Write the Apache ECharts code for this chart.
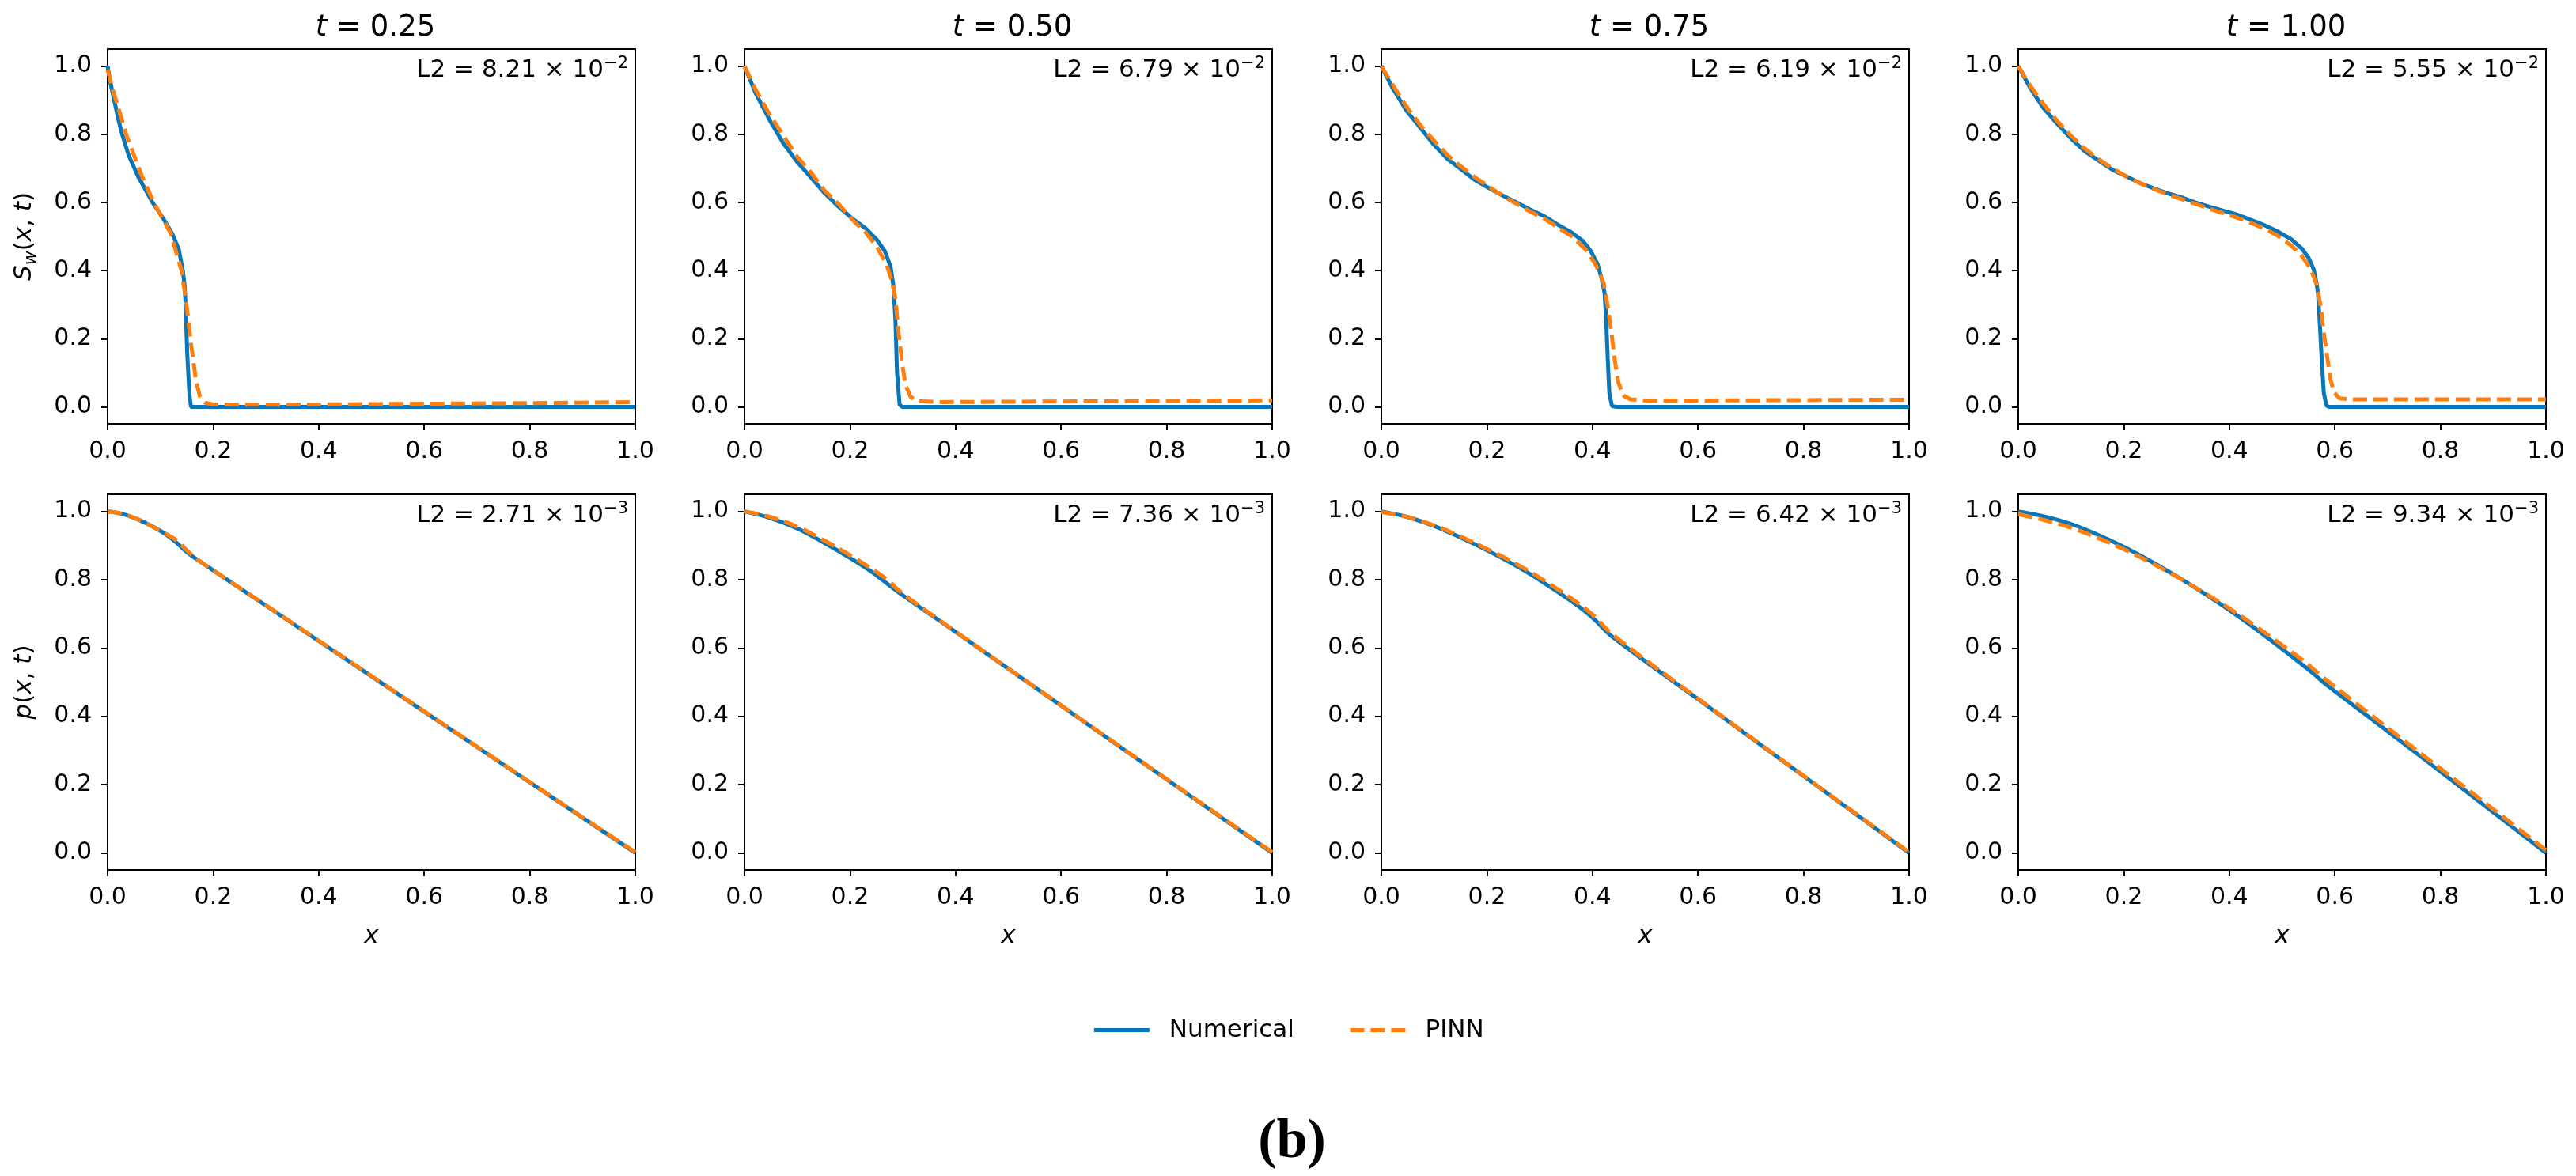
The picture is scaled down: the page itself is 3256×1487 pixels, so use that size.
<!DOCTYPE html>
<html><head><meta charset="utf-8">
<script src="https://cdn.jsdelivr.net/npm/echarts@6/dist/echarts.min.js"></script>
<style>html,body{margin:0;padding:0;background:#fff}#c{width:3256px;height:1487px}</style>
</head><body><div id="c"></div>
<script>
// ---------- tick / label data ----------
const timeLabels = ['0.25', '0.50', '0.75', '1.00'];
const xTicks = [0, 0.2, 0.4, 0.6, 0.8, 1.0];
const yTicks = [0, 0.2, 0.4, 0.6, 0.8, 1.0];
const l2Sw = ['8.21', '6.79', '6.19', '5.55'];
const l2P = ['2.71', '7.36', '6.42', '9.34'];

// ---------- Sw(x,t): numerical ----------
const swNumX025 = [0, 0.005, 0.02, 0.0275, 0.04, 0.0575, 0.085, 0.105, 0.1225, 0.135, 0.1425, 0.146, 0.1475, 0.151, 0.155, 0.158, 0.2, 0.4, 0.6, 0.8, 1.0];
const swNumY025 = [1.0, 0.954, 0.846, 0.8, 0.738, 0.677, 0.6, 0.554, 0.508, 0.462, 0.4, 0.354, 0.308, 0.154, 0.038, 0.0, 0, 0, 0, 0, 0];
const swNumX050 = [0, 0.0215, 0.0476, 0.0737, 0.0998, 0.1259, 0.152, 0.178, 0.204, 0.230, 0.250, 0.266, 0.277, 0.282, 0.286, 0.289, 0.294, 0.299, 0.4, 0.6, 0.8, 1.0];
const swNumY050 = [1.0, 0.919, 0.842, 0.773, 0.719, 0.673, 0.627, 0.588, 0.553, 0.523, 0.492, 0.457, 0.411, 0.357, 0.257, 0.103, 0.006, 0, 0, 0, 0, 0];
const swNumX075 = [0, 0.0215, 0.0476, 0.0737, 0.0998, 0.1259, 0.152, 0.178, 0.204, 0.230, 0.256, 0.282, 0.309, 0.335, 0.361, 0.381, 0.397, 0.410, 0.418, 0.423, 0.426, 0.429, 0.432, 0.437, 0.446, 0.6, 0.8, 1.0];
const swNumY075 = [1.0, 0.935, 0.869, 0.819, 0.769, 0.727, 0.696, 0.665, 0.642, 0.62, 0.6, 0.579, 0.559, 0.534, 0.511, 0.488, 0.457, 0.418, 0.372, 0.334, 0.257, 0.141, 0.041, 0.002, 0, 0, 0, 0];
const swNumX100 = [0, 0.0215, 0.0476, 0.0737, 0.0998, 0.1259, 0.152, 0.178, 0.204, 0.230, 0.256, 0.282, 0.309, 0.335, 0.361, 0.387, 0.413, 0.439, 0.465, 0.491, 0.517, 0.537, 0.550, 0.560, 0.565, 0.568, 0.571, 0.575, 0.579, 0.584, 0.589, 0.8, 1.0];
const swNumY100 = [1.0, 0.939, 0.877, 0.831, 0.788, 0.75, 0.723, 0.696, 0.677, 0.657, 0.642, 0.627, 0.615, 0.6, 0.588, 0.576, 0.565, 0.55, 0.534, 0.515, 0.492, 0.465, 0.438, 0.403, 0.364, 0.334, 0.257, 0.141, 0.041, 0.004, 0, 0, 0];

// ---------- Sw(x,t): PINN ----------
const swPinnX025 = [0, 0.01, 0.0265, 0.035, 0.05, 0.065, 0.0875, 0.12, 0.14, 0.149, 0.1575, 0.1675, 0.175, 0.185, 0.2, 0.25, 0.4, 0.6, 0.8, 1.0];
const swPinnY025 = [0.99, 0.93, 0.846, 0.8, 0.738, 0.677, 0.6, 0.508, 0.4, 0.308, 0.192, 0.077, 0.03, 0.012, 0.007, 0.006, 0.007, 0.009, 0.011, 0.014];
const swPinnX050 = [0, 0.0215, 0.0476, 0.0737, 0.0998, 0.1259, 0.152, 0.178, 0.204, 0.230, 0.250, 0.269, 0.279, 0.286, 0.292, 0.299, 0.305, 0.315, 0.328, 0.374, 0.635, 1.0];
const swPinnY050 = [1.0, 0.93, 0.858, 0.796, 0.734, 0.688, 0.634, 0.596, 0.55, 0.511, 0.472, 0.418, 0.372, 0.318, 0.218, 0.126, 0.064, 0.029, 0.016, 0.014, 0.016, 0.019];
const swPinnX075 = [0, 0.0215, 0.0476, 0.0737, 0.0998, 0.1259, 0.152, 0.178, 0.204, 0.230, 0.256, 0.282, 0.309, 0.335, 0.361, 0.387, 0.406, 0.421, 0.429, 0.436, 0.442, 0.449, 0.459, 0.472, 0.504, 1.0];
const swPinnY075 = [1.0, 0.945, 0.881, 0.827, 0.781, 0.738, 0.704, 0.673, 0.646, 0.619, 0.596, 0.573, 0.552, 0.526, 0.500, 0.462, 0.418, 0.365, 0.295, 0.218, 0.141, 0.072, 0.033, 0.022, 0.018, 0.021];
const swPinnX100 = [0, 0.0215, 0.0476, 0.0737, 0.0998, 0.1259, 0.152, 0.178, 0.204, 0.230, 0.256, 0.282, 0.309, 0.335, 0.361, 0.387, 0.413, 0.439, 0.465, 0.491, 0.517, 0.537, 0.553, 0.566, 0.573, 0.579, 0.586, 0.592, 0.599, 0.609, 0.628, 1.0];
const swPinnY100 = [1.0, 0.945, 0.889, 0.839, 0.796, 0.758, 0.727, 0.70, 0.677, 0.657, 0.640, 0.624, 0.610, 0.596, 0.582, 0.569, 0.556, 0.541, 0.524, 0.503, 0.474, 0.443, 0.408, 0.357, 0.295, 0.218, 0.141, 0.079, 0.041, 0.025, 0.022, 0.022];

// ---------- p(x,t): numerical ----------
const pNumX025 = [0, 0.029, 0.055, 0.081, 0.107, 0.13, 0.147, 0.163, 0.3, 0.5, 0.7, 0.9, 1.0];
const pNumY025 = [1.0, 0.992, 0.978, 0.959, 0.936, 0.909, 0.885, 0.866, 0.724, 0.517, 0.31, 0.103, 0.0];
const pNumX050 = [0, 0.048, 0.1, 0.152, 0.204, 0.243, 0.269, 0.292, 0.4, 0.6, 0.8, 1.0];
const pNumY050 = [1.0, 0.981, 0.95, 0.907, 0.86, 0.821, 0.79, 0.763, 0.647, 0.431, 0.215, 0.0];
const pNumX075 = [0, 0.048, 0.1, 0.152, 0.204, 0.256, 0.309, 0.361, 0.4, 0.436, 0.6, 0.8, 1.0];
const pNumY075 = [1.0, 0.984, 0.957, 0.922, 0.883, 0.84, 0.79, 0.736, 0.689, 0.635, 0.45, 0.225, 0.0];
const pNumX100 = [0, 0.05, 0.102, 0.15, 0.2, 0.25, 0.299, 0.35, 0.4, 0.45, 0.495, 0.53, 0.56, 0.581, 0.7, 0.8, 0.9, 1.0];
const pNumY100 = [1.0, 0.985, 0.962, 0.932, 0.896, 0.855, 0.811, 0.762, 0.711, 0.656, 0.603, 0.561, 0.524, 0.496, 0.356, 0.238, 0.119, 0.0];

// ---------- p(x,t): PINN ----------
const pPinnX025 = [0, 0.03, 0.06, 0.09, 0.13, 0.15, 0.17, 0.3, 0.5, 0.7, 0.9, 1.0];
const pPinnY025 = [1.0, 0.992, 0.975, 0.951, 0.916, 0.886, 0.859, 0.725, 0.518, 0.311, 0.104, 0.002];
const pPinnX050 = [0, 0.048, 0.1, 0.152, 0.204, 0.269, 0.295, 0.4, 0.6, 0.8, 1.0];
const pPinnY050 = [1.0, 0.984, 0.955, 0.914, 0.868, 0.802, 0.765, 0.648, 0.432, 0.216, 0.002];
const pPinnX075 = [0, 0.048, 0.1, 0.152, 0.204, 0.256, 0.309, 0.361, 0.4, 0.44, 0.6, 0.8, 1.0];
const pPinnY075 = [0.998, 0.984, 0.959, 0.925, 0.887, 0.846, 0.797, 0.744, 0.698, 0.637, 0.452, 0.226, 0.002];
const pPinnX100 = [0, 0.05, 0.102, 0.15, 0.2, 0.25, 0.299, 0.35, 0.4, 0.45, 0.495, 0.54, 0.581, 0.7, 0.8, 0.9, 1.0];
const pPinnY100 = [0.992, 0.974, 0.951, 0.923, 0.889, 0.851, 0.810, 0.764, 0.716, 0.664, 0.614, 0.563, 0.510, 0.366, 0.247, 0.128, 0.008];

// ---------- build ----------
const zip = (xs, ys) => xs.map((x, i) => [x, ys[i]]);
const numericalSets = [
  zip(swNumX025, swNumY025), zip(swNumX050, swNumY050), zip(swNumX075, swNumY075), zip(swNumX100, swNumY100),
  zip(pNumX025, pNumY025), zip(pNumX050, pNumY050), zip(pNumX075, pNumY075), zip(pNumX100, pNumY100)
];
const pinnSets = [
  zip(swPinnX025, swPinnY025), zip(swPinnX050, swPinnY050), zip(swPinnX075, swPinnY075), zip(swPinnX100, swPinnY100),
  zip(pPinnX025, pPinnY025), zip(pPinnX050, pPinnY050), zip(pPinnX075, pPinnY075), zip(pPinnX100, pPinnY100)
];

const FONT = 'DejaVu Sans';
const BLUE = '#0a76ba';
const ORANGE = '#ff7f0e';
const lefts = [136, 941, 1746, 2551];
const PW = 667;
const tops = [62, 625];
const PH = [474, 475];

const grids = [], xAxes = [], yAxes = [], series = [], titles = [];
for (let r = 0; r < 2; r++) {
  for (let c = 0; c < 4; c++) {
    const idx = r * 4 + c;
    grids.push({left: lefts[c], top: tops[r], width: PW, height: PH[r], show: true,
      borderColor: '#000', borderWidth: 2, backgroundColor: 'transparent', containLabel: false});
    xAxes.push({
      type: 'value', gridIndex: idx, min: 0, max: 1, interval: 0.2,
      name: r === 1 ? '{i|x}' : '', nameLocation: 'middle', nameGap: 68,
      nameTextStyle: {fontSize: 31, fontFamily: FONT, color: '#000', rich: {i: {fontStyle: 'italic', fontSize: 31, fontFamily: FONT, color: '#000'}}},
      axisLine: {show: true, onZero: false, lineStyle: {color: '#000', width: 2}},
      axisTick: {show: true, length: 8, lineStyle: {color: '#000', width: 2}},
      axisLabel: {show: true, fontSize: 30, fontFamily: FONT, color: '#000', margin: 20,
        showMinLabel: true, showMaxLabel: true, formatter: v => v.toFixed(1)},
      splitLine: {show: false}
    });
    const yName = c === 0 ? (r === 0 ? '{i|S}{s|w}({i|x}, {i|t})' : '{i|p}({i|x}, {i|t})') : '';
    yAxes.push({
      type: 'value', gridIndex: idx, min: -0.05, max: 1.05,
      name: yName, nameLocation: 'middle', nameGap: 86, nameRotate: 90,
      nameTextStyle: {fontSize: 31, fontFamily: FONT, color: '#000', lineHeight: 38,
        rich: {i: {fontStyle: 'italic', fontSize: 31, fontFamily: FONT, color: '#000', lineHeight: 38},
               s: {fontStyle: 'italic', fontSize: 22, fontFamily: FONT, color: '#000', lineHeight: 24, verticalAlign: 'bottom'}}},
      axisLine: {show: true, onZero: false, lineStyle: {color: '#000', width: 2}},
      axisTick: {show: true, length: 8, lineStyle: {color: '#000', width: 2}, customValues: yTicks},
      axisLabel: {show: true, fontSize: 30, fontFamily: FONT, color: '#000', margin: 20,
        customValues: yTicks, formatter: v => Number(v).toFixed(1)},
      splitLine: {show: false}
    });
    const sm = r === 1 ? 0.35 : false;
    series.push({
      name: 'Numerical', type: 'line', xAxisIndex: idx, yAxisIndex: idx,
      data: numericalSets[idx], symbol: 'none', showSymbol: false, clip: true, z: 2,
      smooth: sm, lineStyle: {color: BLUE, width: 5}, itemStyle: {color: BLUE}
    });
    series.push({
      name: 'PINN', type: 'line', xAxisIndex: idx, yAxisIndex: idx,
      data: pinnSets[idx], symbol: 'none', showSymbol: false, clip: true, z: 3,
      smooth: sm, lineStyle: {color: ORANGE, width: 5, type: [18, 8]}, itemStyle: {color: ORANGE}
    });
    const mant = r === 0 ? l2Sw[c] : l2P[c];
    const ex = r === 0 ? '2' : '3';
    titles.push({
      text: 'L2 = ' + mant + ' \u00d7 10{sup|\u2212' + ex + '}',
      left: lefts[c] + PW - 14, top: tops[r] + 22, textAlign: 'right', textVerticalAlign: 'middle',
      textStyle: {fontSize: 31, fontWeight: 'normal', fontFamily: FONT, color: '#000', lineHeight: 38,
        rich: {sup: {fontSize: 21, fontFamily: FONT, color: '#000', lineHeight: 20, verticalAlign: 'top'}}}
    });
  }
}
for (let c = 0; c < 4; c++) {
  titles.push({
    text: '{i|t} = ' + timeLabels[c],
    left: lefts[c] + PW / 2, top: 30, textAlign: 'center', textVerticalAlign: 'middle',
    textStyle: {fontSize: 37, fontWeight: 'normal', fontFamily: FONT, color: '#000',
      rich: {i: {fontStyle: 'italic', fontSize: 37, fontFamily: FONT, color: '#000'}}}
  });
}
titles.push({
  text: '(b)', left: 1628, top: 1440, textAlign: 'center', textVerticalAlign: 'middle',
  textStyle: {fontSize: 70, fontWeight: 'bold', fontFamily: 'Liberation Serif', color: '#000'}
});

const chart = echarts.init(document.getElementById('c'), null, {renderer: 'canvas'});
chart.setOption({
  animation: false,
  backgroundColor: '#fff',
  title: titles,
  legend: {
    data: ['Numerical', 'PINN'], left: 'center', top: 1282, orient: 'horizontal',
    itemWidth: 70, itemHeight: 20, itemGap: 68,
    itemStyle: {opacity: 0},
    lineStyle: {width: 5},
    textStyle: {fontSize: 31, fontFamily: FONT, color: '#000', padding: [0, 0, 0, 20]}
  },
  grid: grids, xAxis: xAxes, yAxis: yAxes, series: series
});
</script></body></html>
